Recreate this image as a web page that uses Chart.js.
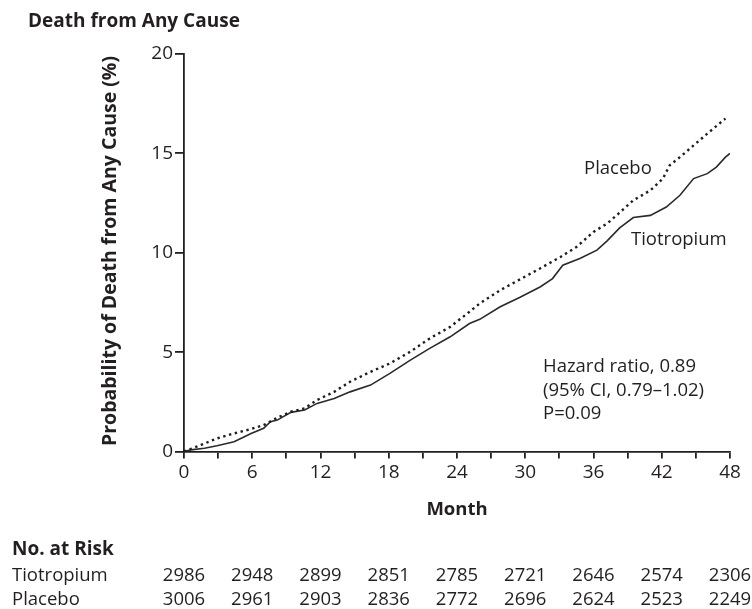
<!DOCTYPE html>
<html><head><meta charset="utf-8">
<script src="https://cdn.jsdelivr.net/npm/chart.js@4.4.1/dist/chart.umd.min.js"></script>
<style>html,body{margin:0;padding:0;background:#fff;} canvas{display:block;}</style>
</head><body>
<canvas id="c" width="752" height="609"></canvas>
<script>
// ---- data ----
const tiotropiumMonths = [0, 0.6, 1.8, 2.9, 4.4, 5.9, 7.0, 7.6, 8.2, 9.4, 10.6, 11.7, 13.2, 14.6, 16.4, 18.1, 19.9, 21.6, 23.4, 25.1, 26.0, 27.8, 29.5, 31.3, 32.4, 33.3, 34.8, 36.3, 37.2, 38.3, 39.5, 41.0, 42.4, 43.6, 44.8, 46.0, 46.8, 47.6, 48.0];
const tiotropiumRisk   = [0, 0.08, 0.16, 0.29, 0.49, 0.91, 1.17, 1.50, 1.58, 1.97, 2.09, 2.42, 2.67, 3.0, 3.34, 3.93, 4.6, 5.19, 5.77, 6.44, 6.65, 7.28, 7.75, 8.28, 8.7, 9.37, 9.71, 10.13, 10.6, 11.25, 11.77, 11.88, 12.3, 12.89, 13.73, 13.98, 14.31, 14.81, 15.0];
const placeboMonths = [0, 0.6, 1.5, 2.9, 4.4, 5.9, 7.0, 8.2, 9.4, 10.6, 11.7, 13.2, 14.6, 16.4, 18.1, 19.9, 21.6, 23.4, 25.1, 26.0, 27.8, 29.5, 31.3, 33.1, 34.5, 36.0, 37.2, 38.2, 39.5, 41.0, 42.1, 42.7, 43.6, 44.8, 46.0, 47.4, 47.6];
const placeboRisk   = [0, 0.13, 0.33, 0.66, 0.91, 1.13, 1.33, 1.70, 2.0, 2.17, 2.59, 3.0, 3.51, 4.01, 4.43, 5.02, 5.69, 6.27, 7.03, 7.45, 8.12, 8.65, 9.21, 9.79, 10.29, 11.05, 11.47, 11.97, 12.64, 13.14, 13.73, 14.4, 14.81, 15.4, 15.99, 16.66, 16.75];
const riskMonths = [0, 6, 12, 18, 24, 30, 36, 42, 48];
const tiotropiumAtRisk = [2986, 2948, 2899, 2851, 2785, 2721, 2646, 2574, 2306];
const placeboAtRisk    = [3006, 2961, 2903, 2836, 2772, 2696, 2624, 2523, 2249];
const seriesNames = ['Tiotropium', 'Placebo'];
const chartTitle = 'Death from Any Cause';
const yTitle = 'Probability of Death from Any Cause (%)';
const xTitle = 'Month';
const statsLines = ['Hazard ratio, 0.89', '(95% CI, 0.79\u20131.02)', 'P=0.09'];
const riskTitle = 'No. at Risk';

// ---- styling ----
const FONT = '"Open Sans", "Noto Sans", sans-serif';
const INK = '#231f20';

const toXY = (xs, ys) => xs.map((x, i) => ({x, y: ys[i]}));

const textPlugin = {
  id: 'texts',
  afterDraw(chart) {
    const ctx = chart.ctx;
    const xs = chart.scales.x, ys = chart.scales.y;
    ctx.save();
    ctx.fillStyle = INK;
    ctx.textBaseline = 'middle';
    // title
    ctx.font = 'bold 19px ' + FONT;
    ctx.textAlign = 'left';
    ctx.fillText(chartTitle, 28, 22);
    // y title
    ctx.save();
    ctx.translate(110, 251);
    ctx.rotate(-Math.PI / 2);
    ctx.textAlign = 'center';
    ctx.font = 'bold 19.5px ' + FONT;
    ctx.fillText(yTitle, 0, 0);
    ctx.restore();
    // x title
    ctx.font = 'bold 18.5px ' + FONT;
    ctx.textAlign = 'center';
    ctx.fillText(xTitle, (xs.left + xs.right) / 2, 510);
    // series labels
    ctx.font = '18.5px ' + FONT;
    ctx.textAlign = 'left';
    ctx.fillText(seriesNames[1], 584, 169);
    ctx.fillText(seriesNames[0], 631, 240);
    // stats
    ctx.font = '18.5px ' + FONT;
    statsLines.forEach((s, i) => ctx.fillText(s, 543, 367 + i * 23.5));
    // risk table
    ctx.font = 'bold 19px ' + FONT;
    ctx.fillText(riskTitle, 12, 550);
    ctx.font = '18.5px ' + FONT;
    ctx.fillText(seriesNames[0], 12, 576);
    ctx.fillText(seriesNames[1], 12, 600);
    ctx.textAlign = 'center';
    riskMonths.forEach((m, i) => {
      const px = xs.getPixelForValue(m);
      ctx.fillText(String(tiotropiumAtRisk[i]), px, 576);
      ctx.fillText(String(placeboAtRisk[i]), px, 600);
    });
    ctx.restore();
  }
};

new Chart(document.getElementById('c'), {
  type: 'line',
  data: {
    datasets: [
      { label: seriesNames[1], data: toXY(placeboMonths, placeboRisk), borderColor: '#1e1e1e', borderWidth: 2.4, borderDash: [2.4, 3.6], pointRadius: 0, tension: 0, fill: false },
      { label: seriesNames[0], data: toXY(tiotropiumMonths, tiotropiumRisk), borderColor: '#2a2a2a', borderWidth: 1.6, pointRadius: 0, tension: 0, fill: false }
    ]
  },
  options: {
    responsive: false,
    animation: false,
    events: [],
    layout: { padding: { left: 0, top: 54, right: 22, bottom: 0 } },
    plugins: { legend: { display: false }, tooltip: { enabled: false }, title: { display: false } },
    scales: {
      x: {
        type: 'linear', min: 0, max: 48,
        afterFit(s) { s.height = 609 - 451.5; },
        border: { color: INK, width: 1.8 },
        grid: { drawOnChartArea: false, color: INK, lineWidth: 1.8, tickLength: 7 },
        ticks: { stepSize: 3, autoSkip: false, maxRotation: 0, color: INK, padding: 3,
          font: { family: FONT, size: 19 },
          callback: (v) => (v % 6 === 0 ? String(v) : '') }
      },
      y: {
        min: 0, max: 20,
        afterFit(s) { s.width = 184; },
        border: { color: INK, width: 1.8 },
        grid: { drawOnChartArea: false, color: INK, lineWidth: 1.8, tickLength: 9 },
        ticks: { stepSize: 5, color: INK, padding: 2, font: { family: FONT, size: 19 } }
      }
    }
  },
  plugins: [textPlugin]
});
</script>
</body></html>
